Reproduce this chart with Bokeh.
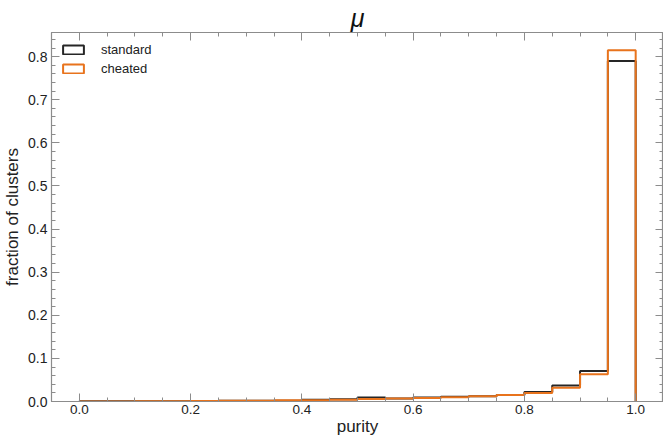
from bokeh.plotting import figure
from bokeh.models import (Range1d, LinearAxis, Legend, LegendItem, FixedTicker,
                          NumeralTickFormatter)
from bokeh.embed import file_html
from bokeh.resources import INLINE

# ---- data ----
bin_edges = [round(0.05 * i, 2) for i in range(21)]
standard = [0.0003, 0.0003, 0.0004, 0.0005, 0.001, 0.0015, 0.002, 0.002, 0.004, 0.005,
            0.009, 0.007, 0.009, 0.011, 0.012, 0.015, 0.022, 0.037, 0.071, 0.790]
cheated = [0.0002, 0.0002, 0.0003, 0.0004, 0.001, 0.0015, 0.002, 0.003, 0.003, 0.004,
           0.006, 0.007, 0.008, 0.010, 0.012, 0.015, 0.020, 0.032, 0.063, 0.815]
series_names = ["standard", "cheated"]
x_ticks = [0.0, 0.2, 0.4, 0.6, 0.8, 1.0]
y_ticks = [0.0, 0.1, 0.2, 0.3, 0.4, 0.5, 0.6, 0.7, 0.8]

X_MIN, X_MAX = -0.05, 1.05
Y_MIN, Y_MAX = 0.0, 0.856

BLACK = "#262626"
ORANGE = "#e8731c"
AXC = "#8c8c8c"
FONT = "Liberation Sans"


def step_path(edges, vals):
    xs, ys = [edges[0]], [0.0]
    for i, v in enumerate(vals):
        xs += [edges[i], edges[i + 1]]
        ys += [v, v]
    xs.append(edges[-1])
    ys.append(0.0)
    return xs, ys


p = figure(frame_width=612, frame_height=369, output_backend="svg", toolbar_location=None,
           x_range=Range1d(X_MIN, X_MAX), y_range=Range1d(Y_MIN, Y_MAX),
           min_border_left=45, min_border_right=0, min_border_top=30, min_border_bottom=0)

p.title.text = "μ"
p.title.align = "center"
p.title.text_font = FONT
p.title.text_font_style = "italic"
p.title.text_font_size = "25px"
p.title.text_color = "#111111"
p.title.offset = 0
p.title.standoff = 2

p.xgrid.visible = False
p.ygrid.visible = False
p.outline_line_color = AXC
p.outline_line_width = 1.2

renderers = []
for vals, col in [(standard, BLACK), (cheated, ORANGE)]:
    xs, ys = step_path(bin_edges, vals)
    p.line(xs, ys, line_color=col, line_width=2)
    r = p.quad(left=[0], right=[0], bottom=[0], top=[0], fill_alpha=0,
               line_color=col, line_width=2)
    renderers.append(r)


def style_axis(ax, ticks, minor):
    ax.ticker = FixedTicker(ticks=ticks, minor_ticks=minor)
    ax.axis_line_color = AXC
    ax.major_tick_in = 8
    ax.major_tick_out = 0
    ax.minor_tick_in = 4
    ax.minor_tick_out = 0
    ax.major_tick_line_color = AXC
    ax.minor_tick_line_color = AXC
    ax.major_label_text_font = FONT
    ax.major_label_text_font_size = "14px"
    ax.major_label_text_color = "#222222"
    ax.formatter = NumeralTickFormatter(format="0.0")


def bare_axis(tick_positions, length, loc):
    ax = LinearAxis(ticker=FixedTicker(ticks=[], minor_ticks=tick_positions),
                    fixed_location=loc)
    ax.axis_line_color = AXC
    ax.major_tick_in = 0
    ax.major_tick_out = 0
    ax.minor_tick_in = length
    ax.minor_tick_out = 0
    ax.minor_tick_line_color = AXC
    ax.major_label_standoff = 0
    return ax


x_minor = [round(-0.05 + 0.05 * i, 2) for i in range(23)]
y_minor = [round(0.02 * i, 2) for i in range(43)]

xa = p.xaxis[0]
style_axis(xa, x_ticks, x_minor)
xa.major_label_text_font_size = "13.5px"
xa.major_label_standoff = 3
xa.axis_label = "purity"
xa.axis_label_text_font = FONT
xa.axis_label_text_font_style = "normal"
xa.axis_label_text_font_size = "17px"
xa.axis_label_text_color = "#222222"
xa.axis_label_standoff = 0

ya = p.yaxis[0]
style_axis(ya, y_ticks, y_minor)
ya.major_label_standoff = 4
ya.axis_label = "fraction of clusters"
ya.axis_label_text_font = FONT
ya.axis_label_text_font_style = "normal"
ya.axis_label_text_font_size = "17px"
ya.axis_label_text_color = "#222222"
ya.axis_label_standoff = 3

p.add_layout(bare_axis(x_ticks, 8, Y_MAX), "above")
p.add_layout(bare_axis(x_minor, 4, Y_MAX), "above")
p.add_layout(bare_axis(y_ticks, 8, X_MAX), "right")
p.add_layout(bare_axis(y_minor, 4, X_MAX), "right")

legend = Legend(items=[LegendItem(label=n, renderers=[r]) for n, r in zip(series_names, renderers)],
                location="top_left")
legend.background_fill_alpha = 0
legend.border_line_alpha = 0
legend.label_text_font = FONT
legend.label_text_font_size = "13px"
legend.label_text_color = "#222222"
legend.glyph_width = 26
legend.glyph_height = 11
legend.label_height = 16
legend.label_standoff = 15
legend.spacing = 3
legend.margin = 4
legend.padding = 5
p.add_layout(legend)

open("out.html", "w").write(file_html(p, INLINE))
